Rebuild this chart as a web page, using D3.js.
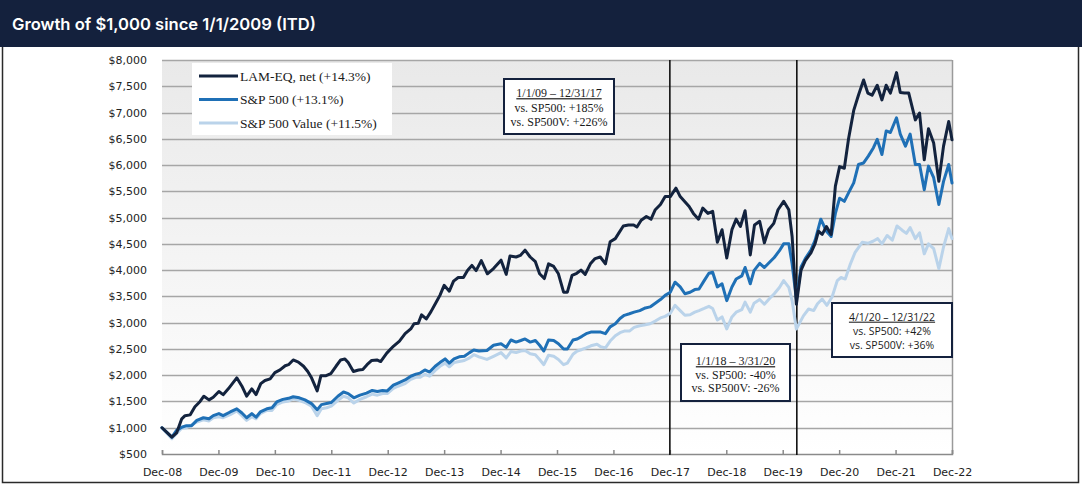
<!DOCTYPE html>
<html>
<head>
<meta charset="utf-8">
<script src="https://cdnjs.cloudflare.com/ajax/libs/d3/7.8.5/d3.min.js"></script>
<style>
  html, body { margin: 0; padding: 0; background: #fff; }
  svg { display: block; }
</style>
</head>
<body>
<svg id="chart" width="1082" height="487"></svg>
<script>
// ---------------- DATA ----------------
const title = "Growth of $1,000 since 1/1/2009 (ITD)";
// x = months since Dec-08, y = growth of $1,000
const tickLabels = ["Dec-08","Dec-09","Dec-10","Dec-11","Dec-12","Dec-13","Dec-14","Dec-15","Dec-16","Dec-17","Dec-18","Dec-19","Dec-20","Dec-21","Dec-22"];
const yTicks = [500,1000,1500,2000,2500,3000,3500,4000,4500,5000,5500,6000,6500,7000,7500,8000];
const seriesNames = ["LAM-EQ, net (+14.3%)", "S&P 500 (+13.1%)", "S&P 500 Value (+11.5%)"];

const lamEq = [[0,1000],[2.1,820],[3.1,900],[4.2,1170],[4.9,1230],[6.0,1245],[7.0,1400],[8.1,1500],[8.9,1600],[10.0,1530],[10.9,1580],[12.1,1690],[13.0,1630],[14.1,1740],[15.9,1950],[17.0,1790],[18.0,1600],[19.1,1740],[20.0,1630],[21.0,1840],[21.9,1900],[23.0,1930],[24.0,2050],[25.1,2100],[26.2,2180],[26.9,2200],[27.9,2290],[29.0,2250],[30.1,2170],[31.0,2070],[31.8,1950],[33.0,1700],[33.8,1990],[34.9,1990],[35.9,2030],[37.0,2170],[38.0,2290],[38.9,2310],[39.6,2240],[40.7,2070],[41.8,2100],[42.7,2110],[43.6,2200],[44.6,2280],[45.7,2290],[46.5,2260],[47.8,2420],[49.2,2550],[50.5,2650],[51.7,2790],[52.9,2880],[53.6,2980],[54.5,2990],[55.2,3150],[56.2,3070],[57.2,3210],[58.3,3390],[59.1,3520],[60.0,3710],[61.1,3600],[62.0,3790],[63.0,3860],[64.1,3860],[65.0,4000],[65.9,4090],[66.8,3990],[67.9,4180],[69.2,3930],[70.5,4030],[72.1,4190],[73.2,3920],[74.0,4270],[75.3,4250],[76.2,4280],[77.2,4380],[78.3,4250],[79.4,4160],[80.3,3930],[81.3,3840],[82.2,4120],[83.3,4070],[84.3,3930],[85.4,3580],[86.2,3580],[87.2,3900],[88.2,3940],[89.1,4000],[90.0,3920],[91.1,4120],[92.1,4220],[93.2,4250],[94.3,4120],[95.3,4540],[96.4,4600],[97.1,4700],[98.1,4840],[99.2,4860],[100.3,4860],[101.0,4820],[101.9,4950],[103.0,5020],[104.0,4970],[104.9,5150],[106.0,5250],[107.0,5400],[108.1,5400],[109.3,5560],[110.2,5400],[111.1,5310],[112.1,5210],[113.0,5080],[114.1,4970],[115.0,5180],[116.1,5080],[117.1,5120],[118.1,4530],[119.1,4770],[120.1,4230],[121.2,4770],[122.1,4970],[123.0,4830],[124.0,5130],[125.1,4290],[126.0,4860],[127.1,4930],[128.1,4520],[129.0,4770],[130.1,4890],[131.0,5150],[132.2,5310],[133.3,5150],[134.0,4640],[134.9,3350],[135.9,4000],[136.8,4180],[138.0,4330],[138.9,4510],[139.6,4740],[140.4,4680],[141.3,4830],[142.3,4680],[143.2,5600],[144.1,5970],[145.1,5940],[146.0,6500],[147.1,7040],[148.1,7330],[149.2,7620],[150.1,7370],[151.0,7330],[152.1,7520],[153.1,7240],[154.0,7520],[154.9,7370],[156.2,7760],[157.0,7380],[157.9,7370],[158.8,7370],[160.2,6860],[161.1,6990],[162.1,6100],[163.0,6690],[164.1,6420],[165.2,5690],[166.2,6360],[167.3,6830],[168,6480]];

const sp500 = [[0,1000],[2.1,820],[3.1,950],[4.2,1010],[5.2,1040],[6.3,1040],[7.4,1140],[8.8,1190],[10.0,1170],[10.9,1230],[12.1,1270],[13.0,1230],[14.5,1300],[15.9,1360],[17.0,1280],[18.0,1190],[19.1,1270],[20.0,1200],[20.9,1300],[22.3,1360],[23.4,1380],[24.4,1490],[25.7,1540],[26.9,1560],[27.9,1590],[29.2,1570],[30.4,1530],[31.8,1460],[33.0,1340],[33.9,1440],[35.0,1460],[36.0,1480],[37.4,1600],[38.6,1680],[39.6,1650],[40.8,1570],[42.1,1620],[43.5,1660],[44.7,1710],[45.8,1690],[46.9,1710],[47.9,1700],[49.2,1810],[50.2,1850],[51.7,1910],[52.9,1980],[54.0,2020],[54.9,2040],[55.9,2100],[56.9,2060],[58.1,2170],[59.1,2240],[60.2,2310],[61.1,2230],[62.1,2310],[63.2,2350],[64.3,2360],[65.4,2430],[66.3,2480],[67.4,2460],[69.1,2470],[70.5,2570],[72.1,2600],[73.2,2530],[74.2,2670],[75.3,2630],[76.3,2660],[77.2,2690],[78.3,2630],[79.4,2660],[80.3,2570],[81.2,2460],[82.2,2670],[83.3,2660],[84.3,2600],[85.4,2500],[86.2,2500],[87.4,2670],[88.3,2690],[89.3,2740],[90.2,2790],[91.2,2820],[92.5,2820],[93.3,2820],[94.3,2790],[95.3,2920],[96.4,2980],[97.4,3080],[98.3,3140],[99.4,3170],[100.4,3200],[101.6,3230],[102.8,3280],[103.8,3300],[104.9,3370],[106.0,3440],[107.0,3520],[108.1,3580],[109.1,3770],[110.2,3680],[111.2,3550],[112.3,3580],[113.3,3630],[114.2,3640],[115.3,3800],[116.3,3940],[117.1,3960],[118.1,3680],[119.1,3740],[120.1,3420],[121.2,3680],[122.1,3830],[123.3,3890],[124.0,4050],[125.1,3740],[125.9,3990],[127.1,4130],[128.1,4050],[129.2,4150],[130.2,4240],[131.3,4370],[132.2,4500],[133.3,4500],[134.0,4120],[134.9,3450],[135.9,4060],[136.8,4220],[138.0,4380],[138.9,4570],[140.1,4970],[141.3,4740],[142.3,4640],[143.2,5080],[144.1,5370],[145.1,5310],[146.0,5470],[147.1,5660],[148.1,6010],[149.2,6040],[150.2,6170],[151.3,6330],[152.1,6490],[153.1,6200],[154.0,6650],[154.9,6620],[156.2,6900],[157.0,6590],[158.1,6360],[159.1,6590],[160.2,6010],[161.1,6010],[162.1,5530],[163.0,5980],[164.1,5760],[165.2,5250],[166.2,5690],[167.3,6010],[168,5660]];

const sp500Value = [[0,1000],[2.1,790],[3.1,890],[4.2,990],[5.2,1000],[7.4,1110],[8.8,1150],[10.0,1130],[10.9,1190],[12.1,1210],[13.0,1190],[14.5,1250],[15.9,1320],[17.0,1230],[18.0,1140],[19.1,1210],[20.0,1170],[20.9,1270],[22.3,1330],[23.4,1330],[24.4,1440],[25.7,1490],[26.9,1510],[27.9,1550],[29.2,1520],[30.4,1480],[31.8,1410],[33.0,1230],[33.9,1360],[35.0,1380],[36.0,1410],[37.4,1520],[38.6,1600],[39.6,1570],[40.8,1470],[42.1,1540],[43.5,1590],[44.7,1640],[45.8,1620],[46.9,1650],[47.9,1650],[49.2,1750],[50.2,1790],[51.7,1840],[52.9,1920],[54.0,1960],[54.9,1960],[55.9,2020],[56.9,1980],[58.1,2090],[59.1,2170],[60.2,2230],[61.1,2160],[62.1,2240],[63.2,2260],[64.3,2280],[65.4,2330],[66.3,2390],[67.4,2350],[69.1,2300],[70.5,2360],[72.1,2430],[73.2,2330],[74.2,2450],[75.3,2430],[76.3,2460],[77.2,2470],[78.3,2410],[79.4,2390],[80.3,2300],[81.2,2200],[82.2,2380],[83.3,2360],[84.3,2300],[85.4,2200],[86.2,2230],[87.4,2400],[88.3,2460],[89.3,2490],[90.2,2520],[91.2,2560],[92.5,2590],[93.3,2540],[94.3,2520],[95.3,2650],[96.4,2750],[97.4,2810],[98.3,2840],[99.4,2840],[100.4,2910],[101.6,2940],[102.8,2960],[103.8,2980],[104.9,3030],[106.0,3090],[107.0,3120],[108.1,3180],[109.1,3330],[110.2,3230],[111.2,3140],[112.3,3150],[113.3,3200],[114.2,3230],[115.3,3270],[116.3,3310],[117.1,3270],[118.1,3050],[119.1,3110],[120.1,2880],[121.2,3110],[122.1,3200],[123.3,3250],[124.0,3390],[125.1,3200],[125.9,3370],[127.1,3440],[128.1,3350],[129.2,3460],[130.2,3550],[131.3,3670],[132.2,3800],[133.3,3670],[134.0,3420],[134.9,2880],[136.4,3130],[137.5,3260],[138.6,3230],[139.4,3360],[140.4,3450],[141.4,3330],[142.5,3490],[143.6,3800],[144.4,3860],[145.3,3830],[146.4,4120],[147.4,4340],[148.9,4530],[150.1,4510],[151.2,4550],[152.2,4600],[153.1,4500],[154.2,4660],[155.3,4570],[156.3,4840],[157.4,4760],[158.3,4700],[159.1,4810],[160.2,4600],[161.1,4710],[162.1,4310],[163.0,4500],[164.1,4410],[165.2,4030],[166.2,4440],[167.3,4790],[168,4600]];

// period dividers (months since Dec-08)
const dividers = [108, 135];
const annotations = [
  ["1/1/09 \u2013 12/31/17", "vs. SP500: +185%", "vs. SP500V: +226%"],
  ["1/1/18 \u2013 3/31/20", "vs. SP500: -40%", "vs. SP500V: -26%"],
  ["4/1/20 \u2013 12/31/22", "vs. SP500: +42%", "vs. SP500V: +36%"]
];

// ---------------- DRAW ----------------
const svg = d3.select("#chart");
const W = 1082, H = 487;
const plot = {left: 162, right: 952, top: 60, bottom: 454};

const x = d3.scaleLinear().domain([0, 168]).range([plot.left, plot.right]);
const y = d3.scaleLinear().domain([500, 8000]).range([plot.bottom, plot.top]);

const navy = "#14213d";
const colors = ["#13233e", "#1f70b6", "#bad3ea"];

// title bar
svg.append("rect").attr("x", 0).attr("y", 0).attr("width", W).attr("height", 47).attr("fill", navy);
svg.append("text").attr("x", 12).attr("y", 30)
  .attr("font-family", "Inter, 'Open Sans', sans-serif").attr("font-weight", 600)
  .attr("font-size", 16.6).attr("fill", "#fff").text(title);

// frame
svg.append("path").attr("d", `M2.5,47 V482.5 H1078.5 V47`).attr("fill", "none")
  .attr("stroke", "#2a2a2a").attr("stroke-width", 1.5);

// plot gradient
const defs = svg.append("defs");
const grad = defs.append("linearGradient").attr("id", "bg").attr("x1", 0).attr("y1", 0).attr("x2", 0).attr("y2", 1);
grad.append("stop").attr("offset", "0%").attr("stop-color", "#e9e9e9");
grad.append("stop").attr("offset", "100%").attr("stop-color", "#ffffff");
svg.append("rect").attr("x", plot.left).attr("y", plot.top)
  .attr("width", plot.right - plot.left).attr("height", plot.bottom - plot.top)
  .attr("fill", "url(#bg)");

// gridlines
svg.append("g").selectAll("line").data(yTicks.filter(v => v > 500)).join("line")
  .attr("x1", plot.left).attr("x2", plot.right)
  .attr("y1", d => Math.round(y(d)) + 0.5).attr("y2", d => Math.round(y(d)) + 0.5)
  .attr("stroke", "#a6a6a6").attr("stroke-width", 1.3);

// right border of plot
svg.append("line").attr("x1", plot.right + 0.5).attr("x2", plot.right + 0.5)
  .attr("y1", plot.top).attr("y2", plot.bottom).attr("stroke", "#9a9a9a").attr("stroke-width", 1.5);

// y axis labels
const yAxis = d3.axisLeft(y).tickValues(yTicks).tickSize(0).tickPadding(15)
  .tickFormat(d => "$" + d3.format(",")(d));
const gy = svg.append("g").attr("transform", `translate(${plot.left},0)`).call(yAxis);
gy.select(".domain").remove();
gy.selectAll("text").attr("font-family", "'DejaVu Sans', Verdana, sans-serif").attr("font-size", 11).attr("fill", "#222");

// x axis
const xAxis = d3.axisBottom(x).tickValues(d3.range(0, 169, 12)).tickSize(-4).tickPadding(14)
  .tickFormat((d, i) => tickLabels[i]);
const gx = svg.append("g").attr("transform", `translate(0,${plot.bottom})`).call(xAxis);
gx.select(".domain").attr("stroke", "#8a8a8a").attr("stroke-width", 1.5);
gx.selectAll(".tick line").attr("stroke", "#8a8a8a").attr("stroke-width", 1.5);
gx.selectAll("text").attr("font-family", "'DejaVu Sans', Verdana, sans-serif").attr("font-size", 11).attr("fill", "#222");

// dividers
svg.append("g").selectAll("line").data(dividers).join("line")
  .attr("x1", d => x(d)).attr("x2", d => x(d))
  .attr("y1", plot.top).attr("y2", plot.bottom + 1)
  .attr("stroke", "#111").attr("stroke-width", 1.6);

// series lines
const line = d3.line().x(d => x(d[0])).y(d => y(d[1]));
const series = [sp500Value, sp500, lamEq];
const seriesColors = [colors[2], colors[1], colors[0]];
series.forEach((s, i) => {
  svg.append("path").datum(s).attr("d", line).attr("fill", "none")
    .attr("stroke", seriesColors[i]).attr("stroke-width", 3)
    .attr("stroke-linejoin", "round").attr("stroke-linecap", "round");
});

// legend
const lg = svg.append("g");
lg.append("rect").attr("x", 192).attr("y", 63).attr("width", 200).attr("height", 72).attr("fill", "#fff");
seriesNames.forEach((name, i) => {
  const yy = 76 + i * 23.5;
  lg.append("line").attr("x1", 199).attr("x2", 238).attr("y1", yy).attr("y2", yy)
    .attr("stroke", colors[i]).attr("stroke-width", 3);
  lg.append("text").attr("x", 240).attr("y", yy).attr("dy", "0.35em")
    .attr("font-family", "'Liberation Serif', 'Times New Roman', serif").attr("font-size", 13.5)
    .attr("fill", "#1a1a1a").text(name);
});

// annotation boxes
const boxes = [
  {x: 504, y: 79, w: 110, h: 55, font: "'Liberation Serif', serif", size: 12, ly: [93, 107.5, 122]},
  {x: 681, y: 344, w: 109, h: 57, font: "'Liberation Serif', serif", size: 12, ly: [361, 374.5, 388]},
  {x: 832, y: 303, w: 120, h: 54, font: "'Open Sans', sans-serif", size: 10.5, ly: [317, 331, 345]}
];
boxes.forEach((b, i) => {
  const g = svg.append("g");
  g.append("rect").attr("x", b.x).attr("y", b.y).attr("width", b.w).attr("height", b.h)
    .attr("fill", "#fff").attr("stroke", navy).attr("stroke-width", 2);
  annotations[i].forEach((t, j) => {
    g.append("text").attr("x", b.x + b.w / 2).attr("y", b.ly[j]).attr("dy", "0.35em")
      .attr("text-anchor", "middle").attr("font-family", b.font).attr("font-size", b.size)
      .attr("fill", "#1b1b1b")
      .attr("text-decoration", j === 0 ? "underline" : null)
      .text(t);
  });
});
</script>
</body>
</html>
